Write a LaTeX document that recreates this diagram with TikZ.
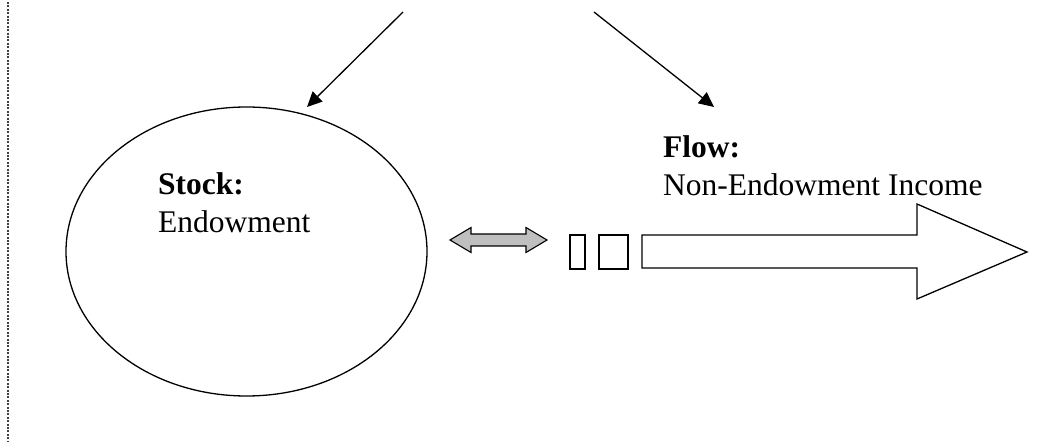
\documentclass[tikz,border=0pt]{standalone}
\usepackage{fontspec}
\setmainfont{Liberation Serif}
\usetikzlibrary{shapes.geometric,arrows.meta}
\begin{document}
\begin{tikzpicture}[x=1pt,y=-1pt,
  outline/.style={draw=black,line width=1.3pt,line join=miter},
  pointer/.style={line width=1.3pt,-{Triangle[length=15pt,width=14pt]}},
  label/.style={anchor=base west,inner sep=0pt,font=\fontsize{31.5}{38}\selectfont},
  hollow/.style={outline,fill=white},
]
\useasboundingbox (0,0) rectangle (1041,443);

% dotted margin rule
\draw[black!75,line width=1.6pt,dash pattern=on 2pt off 1.4pt] (8,2) -- (8,441);

% stock: the endowment
\node[ellipse,outline,minimum width=361pt,minimum height=289pt,inner sep=0pt] (stock) at (246.5,251.5) {};
\node[label] (stockhead) at (158,195) {\textbf{Stock:}};
\node[label] (stockbody) at (158,233) {Endowment};

% flow: non-endowment income
\node[label] (flowhead) at (663,158) {\textbf{Flow:}};
\node[label] (flowbody) at (663,196) {Non-Endowment Income};

% incoming pointers from above
\coordinate (srcL) at (403,12);
\coordinate (srcR) at (594,12);
\coordinate (tipL) at (307,107);
\coordinate (tipR) at (714,107);
\draw[pointer] (srcL) -- (tipL);
\draw[pointer] (srcR) -- (tipR);

% two-way exchange arrow
\draw[outline,fill=black!25,line width=1.1pt]
  (450,240) -- (471,227.5) -- (471,234) -- (526,234) -- (526,227.5) -- (547,240)
  -- (526,252.5) -- (526,246) -- (471,246) -- (471,252.5) -- cycle;

% broken tail of the flow arrow
\draw[hollow] (570,235) rectangle (585,269);
\draw[hollow] (599,235) rectangle (628,269);

% the flow arrow itself
\draw[hollow] (642,235) -- (917,235) -- (917,204) -- (1027,252) -- (917,299)
  -- (917,268) -- (642,268) -- cycle;
\end{tikzpicture}
\end{document}
